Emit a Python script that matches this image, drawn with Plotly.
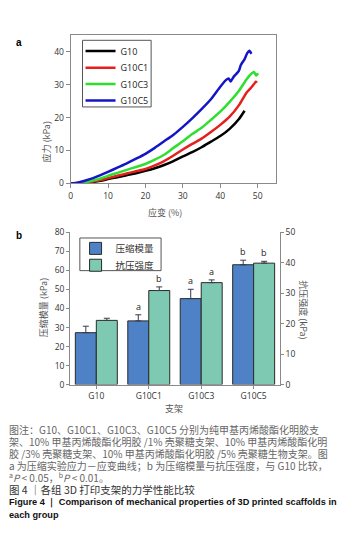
import plotly.graph_objects as go

W, H = 345, 553


def px(x):
    return x / W


def py(y):
    return 1 - y / H


# ---------------- data: panel a (stress-strain curves) ----------------
g10_strain = [0, 2, 4, 6, 8, 10, 12.5, 15, 17.5, 20, 22.5, 25, 27.5, 30, 32.5, 35, 37.5, 40, 42.5, 45, 46.5]
g10_stress = [0, 0.05, 0.2, 0.45, 0.8, 1.3, 1.9, 2.5, 3.1, 3.8, 4.6, 5.6, 6.8, 8.2, 9.5, 11.0, 12.7, 14.4, 16.6, 19.6, 22.1]

g10c1_strain = [0, 2, 4, 6, 8, 10, 12.5, 15, 17.5, 20, 22.5, 25, 27.5, 30, 32.5, 35, 37.5, 40, 42.5, 45, 47, 48, 49, 49.5, 49.8]
g10c1_stress = [0, 0.05, 0.25, 0.55, 1.0, 1.6, 2.3, 3.0, 3.7, 4.4, 5.5, 6.8, 8.5, 10.3, 12.0, 13.6, 15.6, 17.8, 20.3, 23.8, 27.6, 28.8, 30.2, 30.9, 30.6]

g10c3_strain = [0, 2, 4, 6, 8, 10, 12.5, 15, 17.5, 20, 22.5, 25, 27.5, 30, 32.5, 35, 37.5, 40, 42.5, 45, 47, 48, 49, 49.6, 50.1]
g10c3_stress = [0, 0.1, 0.4, 0.9, 1.5, 2.3, 3.2, 4.1, 5.0, 5.9, 7.2, 8.7, 10.8, 12.8, 15.0, 16.9, 19.3, 21.8, 24.8, 28.2, 31.6, 33.0, 33.9, 32.8, 33.5]

g10c5_strain = [0, 2, 4, 6, 8, 10, 12.5, 15, 17.5, 20, 22.5, 25, 27.5, 30, 32.5, 35, 37.5, 40, 41.5, 42.2, 42.8, 43.5, 44.2, 45, 45.5, 46.5, 47.2, 47.8, 48.3]
g10c5_stress = [0, 0.3, 0.9, 1.6, 2.5, 3.5, 4.8, 6.1, 7.5, 9.0, 10.8, 12.8, 14.8, 17.2, 19.8, 22.6, 25.6, 29.4, 31.4, 31.9, 31.0, 32.3, 33.2, 34.3, 36.0, 37.8, 39.6, 40.3, 39.4]

curve_names = ["G10", "G10C1", "G10C3", "G10C5"]
curve_colors = ["#000000", "#e3201c", "#2ee02e", "#1515c8"]

# ---------------- data: panel b (bars) ----------------
categories = ["G10", "G10C1", "G10C3", "G10C5"]
modulus = [27.3, 33.5, 45.2, 63.0]          # 压缩模量 (kPa), left axis
modulus_err = [3.4, 3.2, 4.9, 2.4]
strength = [21.1, 30.9, 33.5, 39.9]         # 抗压强度 (kPa), right axis
strength_err = [0.7, 1.2, 0.9, 0.6]
sig_modulus = ["", "a", "a", "b"]
sig_strength = ["", "b", "a", "b"]
bar_names = ["压缩模量", "抗压强度"]

a_xticks = [0, 10, 20, 30, 40, 50]
a_yticks = [0, 10, 20, 30, 40]
b_left_ticks = [0, 10, 20, 30, 40, 50, 60, 70, 80]
b_right_ticks = [0, 10, 20, 30, 40, 50]

caption_lines = [
    "图注：G10、G10C1、G10C3、G10C5 分别为纯甲基丙烯酸酯化明胶支",
    "架、10% 甲基丙烯酸酯化明胶 /1% 壳聚糖支架、10% 甲基丙烯酸酯化明",
    "胶 /3% 壳聚糖支架、10% 甲基丙烯酸酯化明胶 /5% 壳聚糖生物支架。图",
    "a 为压缩实验应力－应变曲线；b 为压缩模量与抗压强度，与 G10 比较，",
    "<sup>a</sup><i>P</i> &lt; 0.05，<sup>b</sup><i>P</i> &lt; 0.01。",
]
title_cn = "图 4 ｜各组 3D 打印支架的力学性能比较"
title_en = [
    "Figure 4 ｜ Comparison of mechanical properties of 3D printed scaffolds in",
    "each group",
]

CJK = "Noto Sans CJK SC"
TICKF = "Open Sans"

fig = go.Figure()

# one single-entry legend per curve, so the entries can be spaced like the reference
legend_a_ids = ["legend", "legend3", "legend4", "legend5"]
legend_a_y = [46, 63, 79.7, 96.3]
strains = [g10_strain, g10c1_strain, g10c3_strain, g10c5_strain]
stresses = [g10_stress, g10c1_stress, g10c3_stress, g10c5_stress]
for name, col, xs, ys, lg in zip(curve_names, curve_colors, strains, stresses, legend_a_ids):
    fig.add_trace(go.Scatter(
        x=xs, y=ys, mode="lines", name=name,
        line=dict(color=col, width=2.5, shape="spline", smoothing=0.6),
        xaxis="x", yaxis="y", legend=lg,
    ))

fig.add_trace(go.Bar(
    x=categories, y=modulus, name=bar_names[0],
    marker=dict(color="#4f81c6", line=dict(color="#2a2a2a", width=1)),
    width=0.4, offset=-0.4,
    error_y=dict(type="data", array=modulus_err, arrayminus=[0] * 4, symmetric=False,
                 color="#3a3a4a", thickness=1, width=3),
    xaxis="x2", yaxis="y2", legend="legend2",
))
fig.add_trace(go.Bar(
    x=categories, y=strength, name=bar_names[1],
    marker=dict(color="#7ec9b1", line=dict(color="#2a2a2a", width=1)),
    width=0.4, offset=0,
    error_y=dict(type="data", array=strength_err, arrayminus=[0] * 4, symmetric=False,
                 color="#3a3a4a", thickness=1, width=3),
    xaxis="x2", yaxis="y3", legend="legend6",
))

annotations = []
# significance letters
for c, v, e, s in zip(categories, modulus, modulus_err, sig_modulus):
    if s:
        annotations.append(dict(x=c, y=v + e, xref="x2", yref="y2", text=s, showarrow=False,
                                xshift=-10.5, yanchor="bottom", yshift=1, borderpad=0,
                                font=dict(family=TICKF, size=9, color="#222")))
for c, v, e, s in zip(categories, strength, strength_err, sig_strength):
    if s:
        annotations.append(dict(x=c, y=v + e, xref="x2", yref="y3", text=s, showarrow=False,
                                xshift=10.5, yanchor="bottom", yshift=1, borderpad=0,
                                font=dict(family=TICKF, size=9, color="#222")))

# panel labels
annotations.append(dict(x=px(13), y=py(31), xref="paper", yref="paper", text="<b>a</b>",
                        showarrow=False, borderpad=0,
                        font=dict(family="Liberation Sans", size=10, color="#000")))
annotations.append(dict(x=px(13), y=py(234), xref="paper", yref="paper", text="<b>b</b>",
                        showarrow=False, borderpad=0,
                        font=dict(family="Liberation Sans", size=10, color="#000")))


def title(x, y, text, angle=0):
    annotations.append(dict(x=px(x), y=py(y), xref="paper", yref="paper", text=text,
                            showarrow=False, textangle=angle, borderpad=0,
                            font=dict(family=CJK, size=9, color="#555")))


title(37, 117, "应力 (kPa)", -90)
title(164, 211, "应变 (%)")
title(35, 308, "压缩模量 (kPa)", -90)
title(310, 310, "抗压强度 (kPa)", 90)
title(173, 418, "支架")

# caption
y0 = 432.5
for i, line in enumerate(caption_lines):
    annotations.append(dict(x=px(6), y=py(y0 + 12 * i + (0.8 if i == 4 else 0)), xref="paper",
                            yref="paper", text=line,
                            showarrow=False, xanchor="left", yanchor="middle", align="left",
                            borderpad=0, font=dict(family=CJK, size=10, color="#666")))
annotations.append(dict(x=px(6), y=py(493.5), xref="paper", yref="paper", text=title_cn,
                        showarrow=False, xanchor="left", yanchor="middle", borderpad=0,
                        font=dict(family=CJK, size=10.5, color="#333")))
for i, line in enumerate(title_en):
    annotations.append(dict(x=px(6), y=py(506.5 + 12.7 * i), xref="paper", yref="paper",
                            text="<b>" + line + "</b>",
                            showarrow=False, xanchor="left", yanchor="middle", borderpad=0,
                            font=dict(family="Liberation Sans", size=9.2, color="#111")))

axis_common = dict(showline=True, linecolor="#8a8a8a", linewidth=1, showgrid=False, zeroline=False,
                   tickfont=dict(family=TICKF, size=8.5, color="#333"), tickcolor="#8a8a8a")

legends = {}
for lg, yy in zip(legend_a_ids, legend_a_y):
    legends[lg] = dict(x=px(79), y=py(yy), xanchor="left", yanchor="middle",
                       bgcolor="rgba(0,0,0,0)", borderwidth=0,
                       font=dict(family=TICKF, size=9, color="#222"), itemwidth=30)
for lg, yy in zip(["legend2", "legend6"], [247.3, 264.5]):
    legends[lg] = dict(x=px(74), y=py(yy), xanchor="left", yanchor="middle",
                       bgcolor="rgba(0,0,0,0)", borderwidth=0,
                       font=dict(family=CJK, size=9.5, color="#333"), itemwidth=30)

# legend frames
shapes = [
    dict(type="rect", xref="paper", yref="paper", x0=px(81), x1=px(150), y0=py(103), y1=py(35),
         line=dict(color="#555", width=1), fillcolor="white", layer="above"),
    dict(type="rect", xref="paper", yref="paper", x0=px(78.3), x1=px(160), y0=py(270), y1=py(236.7),
         line=dict(color="#555", width=1), fillcolor="white", layer="above"),
]

fig.update_layout(
    width=W, height=H,
    margin=dict(l=0, r=0, t=0, b=0),
    paper_bgcolor="white", plot_bgcolor="white",
    xaxis=dict(domain=[px(69), px(276)], range=[0, 55], tickvals=a_xticks, ticks="outside",
               ticklen=4, mirror=True, anchor="y", **axis_common),
    yaxis=dict(domain=[py(181), py(30)], range=[0, 45], tickvals=a_yticks, ticks="outside",
               ticklen=4, mirror=True, anchor="x", **axis_common),
    xaxis2=dict(domain=[px(68.5), px(279.5)], type="category", ticks="outside", ticklen=3,
                anchor="y2", **axis_common),
    yaxis2=dict(domain=[py(386.3), py(231)], range=[0, 80], tickvals=b_left_ticks, ticks="outside",
                ticklen=3, anchor="x2", **axis_common),
    yaxis3=dict(domain=[py(386.3), py(231)], range=[0, 50], tickvals=b_right_ticks, ticks="outside",
                ticklen=3, overlaying="y2", side="right", anchor="x2", **axis_common),
    annotations=annotations,
    shapes=shapes,
    showlegend=True,
    **legends,
)

fig.write_html("out.html",
               config={"displayModeBar": False},
               post_script="document.body.style.margin='0';document.body.style.overflow='hidden';")
